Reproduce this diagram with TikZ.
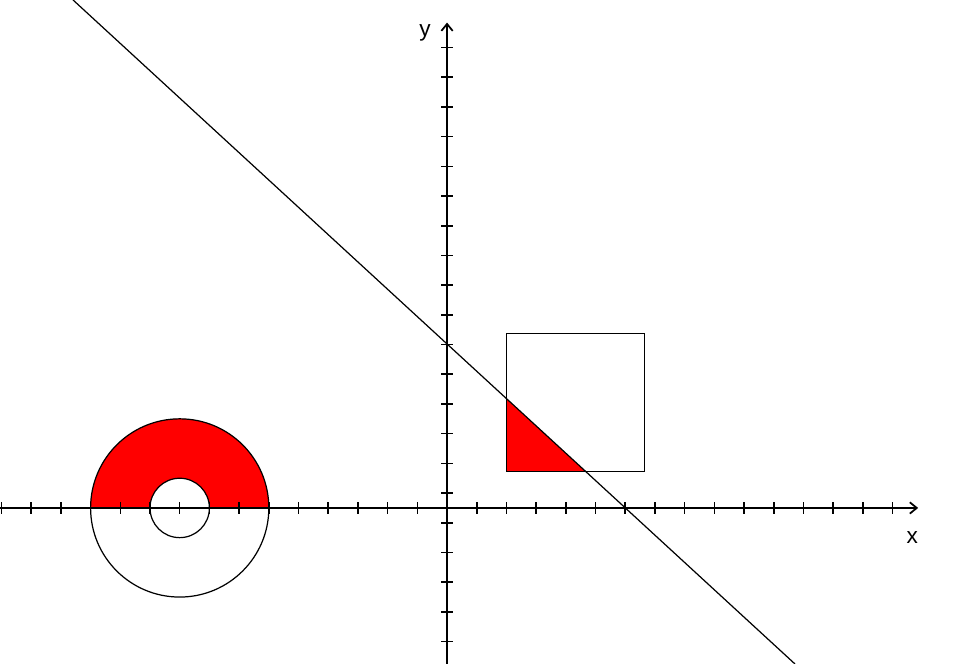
\documentclass[tikz,border=0pt]{standalone}
\usepackage{fontspec}
\setmainfont{Liberation Sans}
\usetikzlibrary{arrows.meta}
\begin{document}
\begin{tikzpicture}[x=0.6cm,y=0.6cm,
    plotAxG/.style={line width=1pt,-{Straight Barb[length=4pt,width=6.5pt]}},
    plotTkG/.style={line width=0.9pt},
    plotLnG/.style={line width=0.7pt,draw=black},
    plotLbG/.style={font=\fontsize{13}{15}\selectfont,inner sep=0pt},
]
\useasboundingbox[fill=white] (-15.05,-5.25) rectangle (17.1,17.1);
% half ring
\fill[red] (-12,0) arc (180:0:3) -- (-8,0) arc (0:180:1) -- cycle;
\draw[plotLnG] (-9,0) circle (3);
\draw[plotLnG] (-9,0) circle (1);
% square and cut corner
\fill[red] (2,3.68) -- (2,1.22) -- (4.67,1.22) -- cycle;
\draw[plotLnG] (2,1.22) rectangle (6.65,5.88);
% line
\draw[plotLnG] (-12.59,17.1) -- (11.71,-5.25);
% axes
\draw[plotAxG] (-15.05,0) -- (15.86,0);
\draw[plotAxG] (0,-5.25) -- (0,16.34);
\foreach \k in {-15,...,-1,1,2,...,15}
  \draw[plotTkG] (\k,-0.19) -- (\k,0.19);
\foreach \k in {-4.5,-3.5,...,15.5}
  \draw[plotTkG] (-0.2,\k) -- (0.2,\k);
\node[plotLbG] (xLbl) at (15.66,-0.98) {x};
\node[plotLbG] (yLbl) at (-0.74,15.98) {y};
\end{tikzpicture}
\end{document}
